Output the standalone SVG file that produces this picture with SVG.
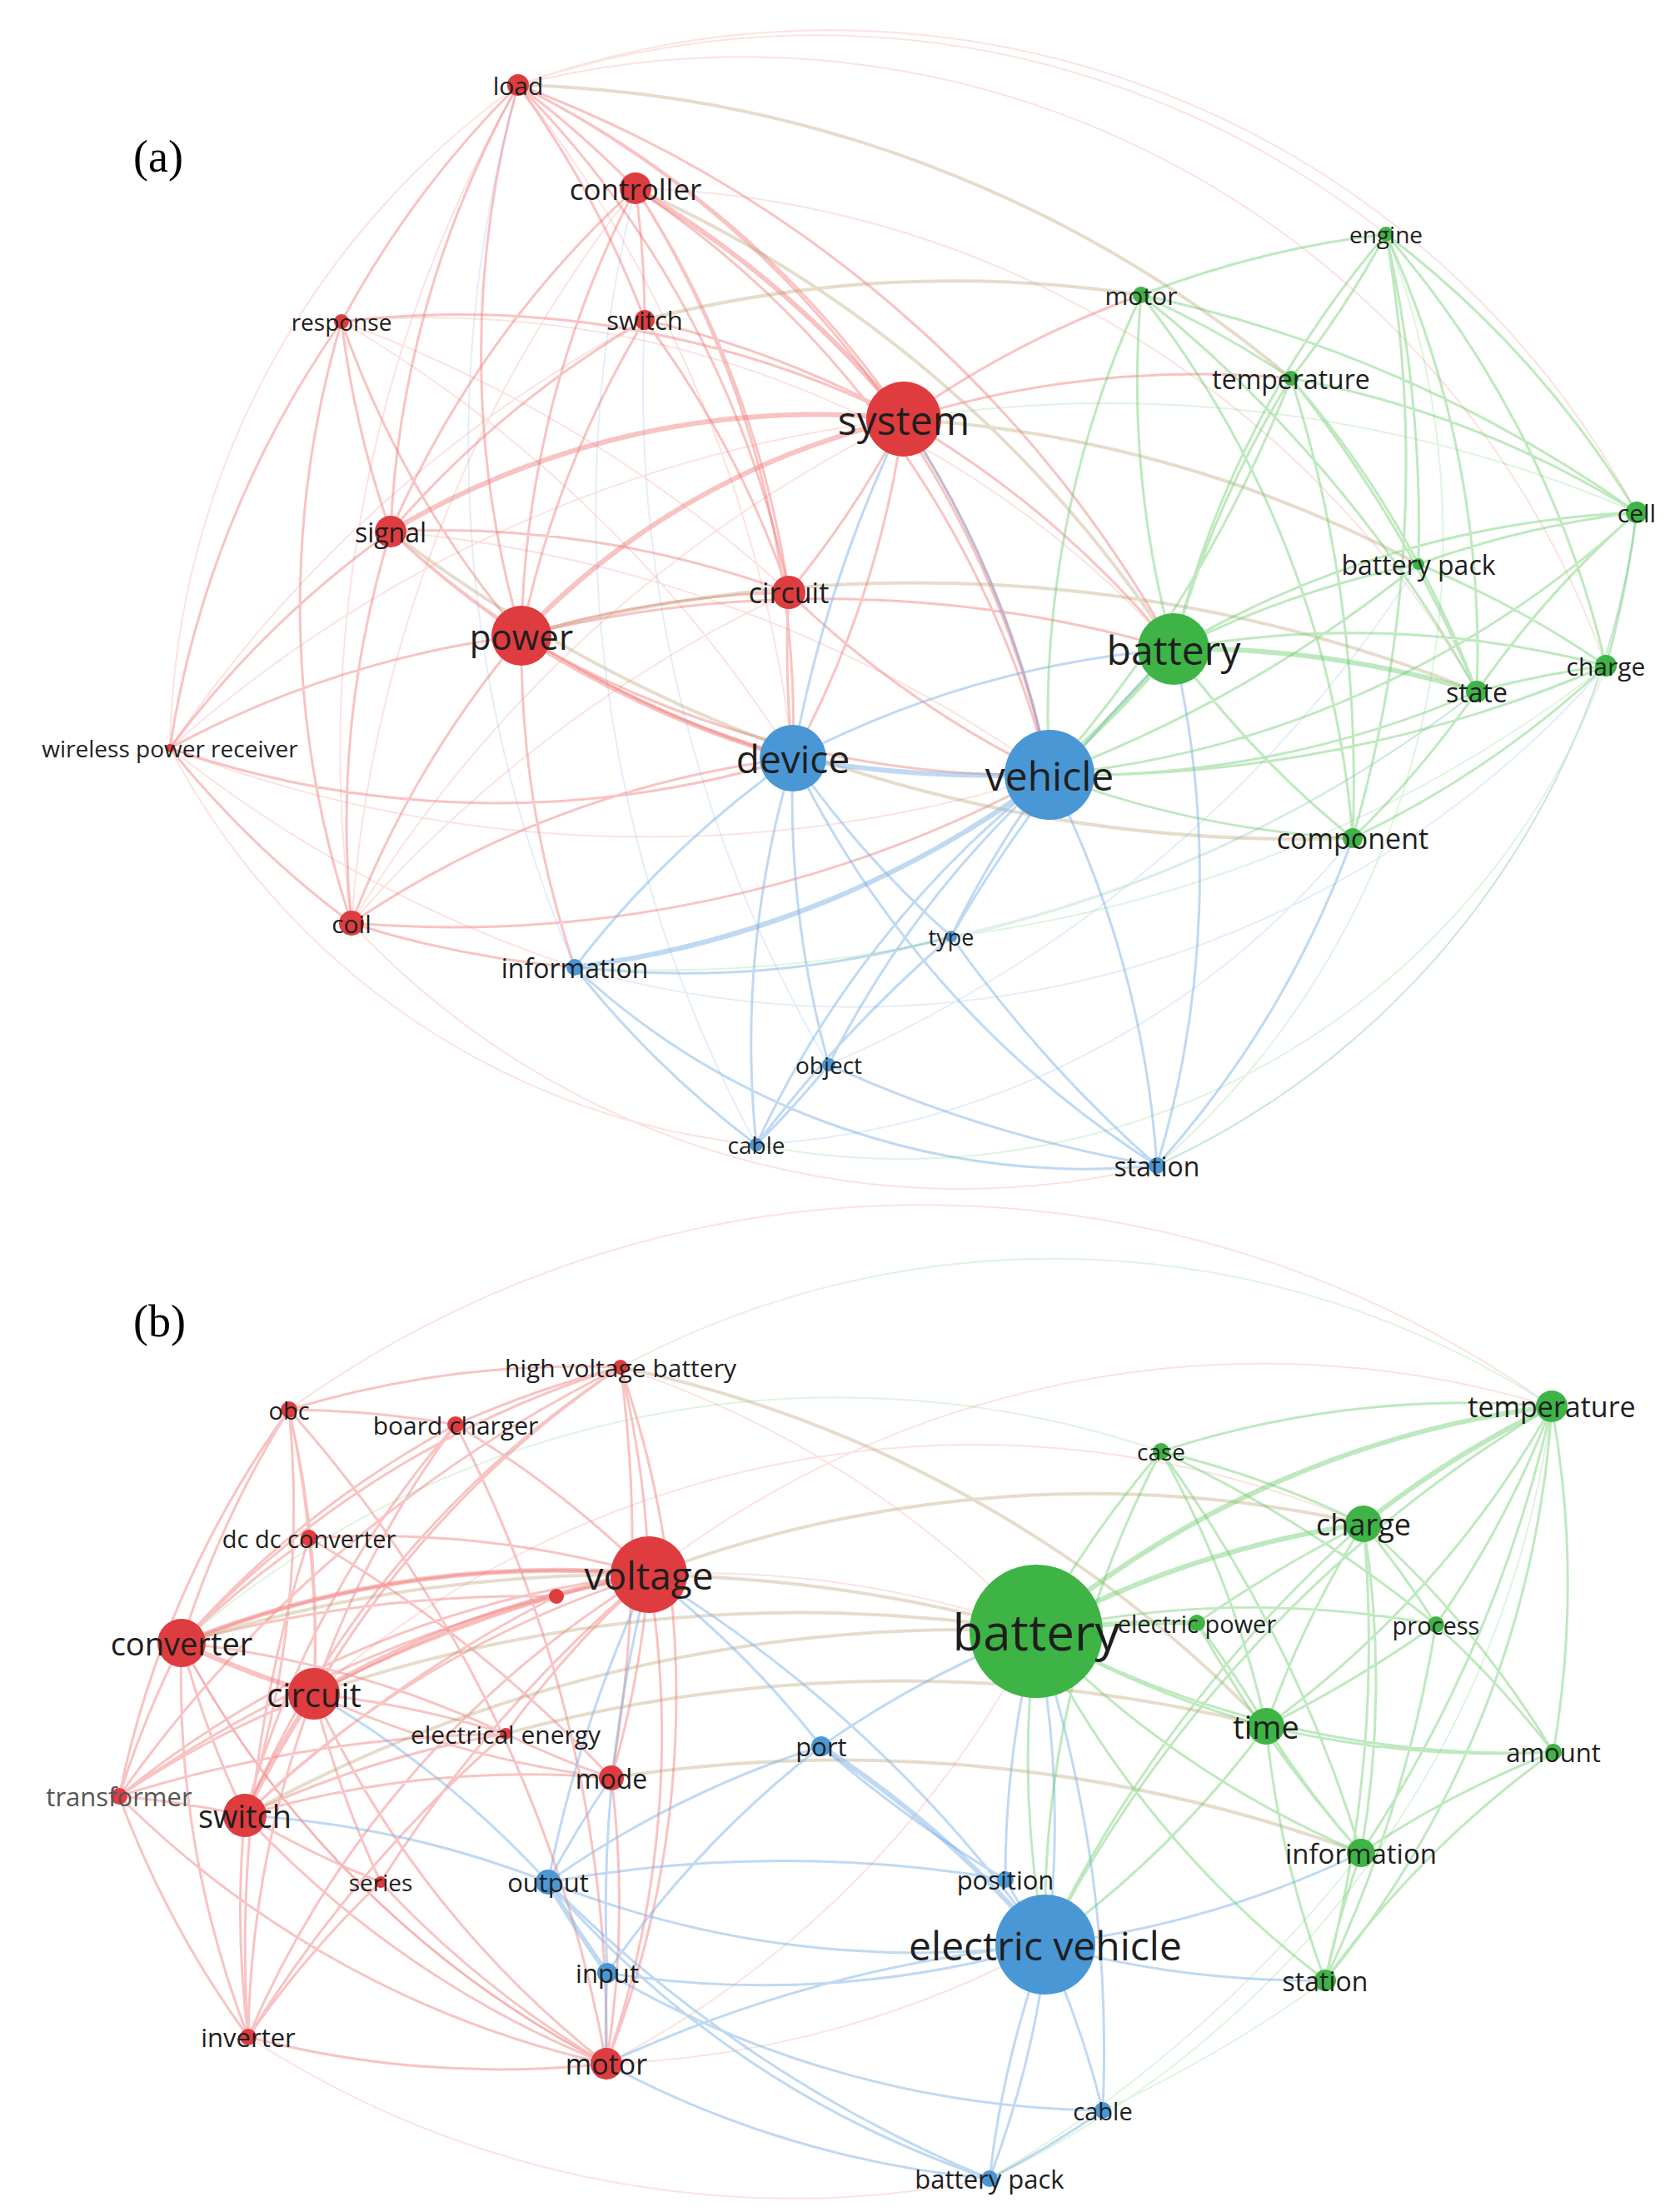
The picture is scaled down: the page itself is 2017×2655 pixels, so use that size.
<svg xmlns="http://www.w3.org/2000/svg" width="2017" height="2655" viewBox="0 0 2017 2655">
<style>
.e{fill:none;stroke-linecap:round}
.r{stroke:#f07a78;stroke-opacity:.45;stroke-width:3}
.g{stroke:#6fcf6f;stroke-opacity:.45;stroke-width:3}
.b{stroke:#7fb3e8;stroke-opacity:.5;stroke-width:3}
.m{stroke:#b89a6a;stroke-opacity:.35;stroke-width:4}
.o{stroke-opacity:.22;stroke-width:2}
.t{stroke-width:6}
.nr{fill:#de3c3f}.ng{fill:#3db445}.nb{fill:#4a97d6}
text{font-family:"Open Sans","Noto Sans",sans-serif;fill:#1e1e1e;text-anchor:middle;dominant-baseline:central}
.p{font-family:"Liberation Serif",serif;font-size:54px;text-anchor:start;fill:#000}
</style>
<rect width="2017" height="2655" fill="#fff"/>
<g id="connectors-a">
<path class="e r" d="M622 102A1200 1200 0 0 1 763 226M622 102A1200 1200 0 0 1 774 384M622 102A1200 1200 0 0 1 1085 503M622 102A1200 1200 0 0 0 626 763M622 102A1200 1200 0 0 0 469 638M622 102A1200 1200 0 0 0 410 386M622 102A1200 1200 0 0 1 947 711M622 102A1200 1200 0 0 1 1260 930M622 102A1500 1500 0 0 1 1409 779"/>
<path class="e r t" d="M763 226A1200 1200 0 0 1 1085 503M626 763A900 900 0 0 1 1085 503M469 638A1000 1000 0 0 1 1085 503M626 763A1200 1200 0 0 0 952 910"/>
<path class="e r" d="M763 226A1200 1200 0 0 1 774 384M763 226A1200 1200 0 0 0 626 763M763 226A1200 1200 0 0 0 469 638M763 226A1200 1200 0 0 1 947 711M763 226A1200 1200 0 0 1 952 910M763 226A1200 1200 0 0 1 1260 930M774 384A1200 1200 0 0 0 626 763M774 384A1200 1200 0 0 1 1085 503M774 384A1200 1200 0 0 1 947 711M774 384A1200 1200 0 0 0 469 638M410 386A1200 1200 0 0 0 469 638M410 386A1200 1200 0 0 0 626 763M410 386A1200 1200 0 0 1 1085 503M410 386A1200 1200 0 0 0 422 1108M1085 503A1200 1200 0 0 1 947 711M1085 503A1200 1200 0 0 1 952 910M1085 503A1200 1200 0 0 1 1260 930M1085 503A1200 1200 0 0 1 1409 779M1085 503A1200 1200 0 0 1 1370 354M1085 503A1200 1200 0 0 1 1550 454M469 638A1200 1200 0 0 0 626 763M469 638A1200 1200 0 0 0 422 1108M469 638A1200 1200 0 0 1 947 711M469 638A1200 1200 0 0 0 952 910M626 763A1200 1200 0 0 1 947 711M626 763A1200 1200 0 0 0 1260 930M626 763A1200 1200 0 0 0 422 1108M626 763A1200 1200 0 0 0 690 1161M626 763A1500 1500 0 0 1 1409 779M947 711A1200 1200 0 0 0 952 910M947 711A1200 1200 0 0 0 1260 930M204 898A1200 1200 0 0 1 626 763M204 898A1200 1200 0 0 0 422 1108M204 898A1200 1200 0 0 1 469 638M204 898A1200 1200 0 0 1 410 386M204 898A1200 1200 0 0 0 952 910M422 1108A1200 1200 0 0 0 690 1161M422 1108A1200 1200 0 0 1 952 910M422 1108A1500 1500 0 0 0 1260 930"/>
<path class="e r o" d="M622 102A1100 1100 0 0 1 1965 615M622 102A1100 1100 0 0 1 1664 281M204 898A900 900 0 0 0 908 1374M422 1108A1000 1000 0 0 0 1389 1399M410 386A1200 1200 0 0 1 1409 779M763 226A1200 1200 0 0 1 1773 830M622 102A1100 1100 0 0 1 1928 799M204 898A1000 1000 0 0 1 622 102M410 386A1600 1600 0 0 1 947 711M204 898A1600 1600 0 0 1 1085 503M204 898A1600 1600 0 0 0 1260 930M204 898A1600 1600 0 0 1 774 384M204 898A1600 1600 0 0 0 690 1161M422 1108A1600 1600 0 0 1 1085 503M422 1108A1600 1600 0 0 1 947 711M469 638A1600 1600 0 0 1 1260 930M410 386A1600 1600 0 0 1 952 910M622 102A1600 1600 0 0 0 422 1108M763 226A1600 1600 0 0 0 422 1108M622 102A1600 1600 0 0 1 952 910"/>
<path class="e m" d="M763 226A1500 1500 0 0 1 1409 779M626 763A1800 1800 0 0 1 1773 830M1085 503A1500 1500 0 0 1 1703 677M622 102A1500 1500 0 0 1 1550 454M469 638A1800 1800 0 0 0 1624 1006M774 384A1500 1500 0 0 1 1370 354"/>
<path class="e b t" d="M952 910A1500 1500 0 0 0 1260 930M690 1161A1200 1200 0 0 0 1260 930"/>
<path class="e b" d="M952 910A1200 1200 0 0 0 690 1161M952 910A1200 1200 0 0 0 1142 1124M952 910A1200 1200 0 0 0 995 1278M952 910A1200 1200 0 0 0 908 1374M952 910A1200 1200 0 0 0 1389 1399M1260 930A1200 1200 0 0 1 1389 1399M1260 930A1200 1200 0 0 0 1142 1124M1260 930A1200 1200 0 0 0 995 1278M1260 930A1200 1200 0 0 0 908 1374M690 1161A1200 1200 0 0 0 1142 1124M1389 1399A1200 1200 0 0 0 1409 779M1389 1399A1200 1200 0 0 0 1624 1006M908 1374A1200 1200 0 0 0 995 1278M952 910A1200 1200 0 0 1 1409 779M690 1161A1200 1200 0 0 1 952 910M1260 930A1200 1200 0 0 0 1085 503M690 1161A1200 1200 0 0 0 908 1374M690 1161A900 900 0 0 0 1389 1399M1142 1124A1600 1600 0 0 0 1389 1399M995 1278A1600 1600 0 0 0 1389 1399M908 1374A1600 1600 0 0 1 1142 1124M952 910A1600 1600 0 0 1 1085 503M1142 1124A1600 1600 0 0 1 1409 779"/>
<path class="e b o" d="M908 1374A1000 1000 0 0 0 1624 1006M1389 1399A1000 1000 0 0 0 1965 615M690 1161A1200 1200 0 0 0 1928 799M995 1278A1600 1600 0 0 1 774 384M908 1374A1600 1600 0 0 1 763 226M690 1161A1600 1600 0 0 1 622 102M1142 1124A1600 1600 0 0 0 1773 830M995 1278A1600 1600 0 0 0 1703 677"/>
<path class="e g t" d="M1409 779A1500 1500 0 0 1 1260 930M1409 779A1200 1200 0 0 1 1773 830"/>
<path class="e g" d="M1409 779A1200 1200 0 0 1 1370 354M1409 779A1200 1200 0 0 1 1550 454M1409 779A1200 1200 0 0 1 1703 677M1409 779A1200 1200 0 0 1 1928 799M1409 779A1200 1200 0 0 1 1965 615M1409 779A1200 1200 0 0 0 1624 1006M1409 779A1200 1200 0 0 1 1664 281M1370 354A1200 1200 0 0 1 1664 281M1370 354A1200 1200 0 0 1 1550 454M1370 354A1200 1200 0 0 0 1260 930M1664 281A1200 1200 0 0 1 1550 454M1664 281A1200 1200 0 0 1 1965 615M1664 281A1200 1200 0 0 1 1773 830M1550 454A1200 1200 0 0 1 1703 677M1550 454A1200 1200 0 0 1 1965 615M1703 677A1200 1200 0 0 1 1965 615M1703 677A1200 1200 0 0 1 1773 830M1703 677A1200 1200 0 0 1 1928 799M1773 830A1200 1200 0 0 1 1928 799M1773 830A1200 1200 0 0 1 1965 615M1928 799A1200 1200 0 0 0 1965 615M1624 1006A1200 1200 0 0 0 1773 830M1624 1006A1200 1200 0 0 0 1928 799M1624 1006A1200 1200 0 0 1 1260 930M1664 281A1200 1200 0 0 1 1928 799M1965 615A1200 1200 0 0 1 1260 930M1773 830A1200 1200 0 0 1 1260 930M1370 354A1200 1200 0 0 1 1624 1006M1550 454A1600 1600 0 0 1 1260 930M1550 454A1600 1600 0 0 1 1773 830M1550 454A1600 1600 0 0 1 1624 1006M1370 354A1600 1600 0 0 1 1965 615M1370 354A1600 1600 0 0 1 1773 830M1664 281A1600 1600 0 0 1 1703 677M1703 677A1600 1600 0 0 1 1260 930M1928 799A1600 1600 0 0 1 1260 930M1664 281A1600 1600 0 0 1 1624 1006"/>
<path class="e g o" d="M1664 281A1000 1000 0 0 1 1389 1399M1965 615A1000 1000 0 0 1 1389 1399M1928 799A900 900 0 0 1 908 1374M1928 799A1600 1600 0 0 1 1142 1124M1965 615A1600 1600 0 0 0 1085 503M1773 830A1600 1600 0 0 1 690 1161"/>
</g>
<g id="connectors-b">
<path class="e r" d="M745 1641A1200 1200 0 0 0 347 1692M745 1641A1200 1200 0 0 0 547 1710M745 1641A1200 1200 0 0 1 779 1890M745 1641A1200 1200 0 0 0 218 1972M745 1641A1200 1200 0 0 0 377 2033M745 1641A1200 1200 0 0 0 294 2179M745 1641A1200 1200 0 0 1 728 2477M347 1692A1200 1200 0 0 1 547 1710M347 1692A1200 1200 0 0 0 218 1972M347 1692A1200 1200 0 0 1 377 2033M347 1692A1200 1200 0 0 1 371 1846M347 1692A1200 1200 0 0 0 143 2156M347 1692A1200 1200 0 0 1 294 2179M547 1710A1200 1200 0 0 0 218 1972M547 1710A1200 1200 0 0 1 779 1890M547 1710A1200 1200 0 0 0 377 2033M547 1710A1200 1200 0 0 0 294 2179M371 1846A1200 1200 0 0 0 218 1972M371 1846A1200 1200 0 0 1 779 1890M371 1846A1200 1200 0 0 1 377 2033M779 1890A1200 1200 0 0 0 218 1972M779 1890A1200 1200 0 0 0 294 2179M779 1890A1200 1200 0 0 1 728 2477M779 1890A1200 1200 0 0 1 734 2134M779 1890A1200 1200 0 0 0 607 2081M779 1890A1200 1200 0 0 0 143 2156M779 1890A1200 1200 0 0 0 298 2445M779 1890A1200 1200 0 0 0 668 1916M218 1972A1200 1200 0 0 0 294 2179M218 1972A1200 1200 0 0 0 143 2156M218 1972A1200 1200 0 0 0 298 2445M218 1972A1200 1200 0 0 0 728 2477M218 1972A1200 1200 0 0 1 607 2081M377 2033A1200 1200 0 0 0 143 2156M377 2033A1200 1200 0 0 1 607 2081M377 2033A1200 1200 0 0 0 734 2134M377 2033A1200 1200 0 0 0 728 2477M377 2033A1200 1200 0 0 0 457 2259M377 2033A1200 1200 0 0 0 298 2445M294 2179A1200 1200 0 0 0 143 2156M294 2179A1200 1200 0 0 0 298 2445M294 2179A1200 1200 0 0 0 728 2477M294 2179A1200 1200 0 0 0 457 2259M294 2179A1200 1200 0 0 1 734 2134M294 2179A1200 1200 0 0 1 607 2081M143 2156A1200 1200 0 0 0 298 2445M143 2156A1200 1200 0 0 0 728 2477M298 2445A1200 1200 0 0 0 728 2477M298 2445A1200 1200 0 0 1 457 2259M457 2259A1200 1200 0 0 0 728 2477M734 2134A1200 1200 0 0 1 728 2477M607 2081A1200 1200 0 0 0 734 2134M668 1916A1600 1600 0 0 0 218 1972M668 1916A1600 1600 0 0 0 377 2033M668 1916A1600 1600 0 0 0 294 2179M547 1710A1600 1600 0 0 1 728 2477M347 1692A1600 1600 0 0 1 728 2477M371 1846A1600 1600 0 0 0 298 2445M371 1846A1600 1600 0 0 1 734 2134M143 2156A1600 1600 0 0 1 779 1890M143 2156A1600 1600 0 0 1 607 2081M457 2259A1600 1600 0 0 1 779 1890M298 2445A1600 1600 0 0 1 607 2081M745 1641A1600 1600 0 0 1 734 2134M745 1641A1600 1600 0 0 0 143 2156"/>
<path class="e r t" d="M218 1972A1200 1200 0 0 1 779 1890M377 2033A1200 1200 0 0 1 779 1890M377 2033A1200 1200 0 0 0 294 2179M218 1972A1200 1200 0 0 0 377 2033"/>
<path class="e r o" d="M779 1890A1200 1200 0 0 1 1244 1958M745 1641A1200 1200 0 0 1 1244 1958M728 2477A1200 1200 0 0 0 1244 1958M728 2477A1200 1200 0 0 0 1255 2334M779 1890A1200 1200 0 0 1 1863 1688M347 1692A1300 1300 0 0 1 1863 1688M298 2445A1200 1200 0 0 0 1188 2615M218 1972A1200 1200 0 0 0 728 2477M377 2033A1200 1200 0 0 1 1637 1829"/>
<path class="e m" d="M779 1890A1500 1500 0 0 1 1637 1829M377 2033A1800 1800 0 0 1 1244 1958M218 1972A1800 1800 0 0 1 1244 1958M294 2179A1800 1800 0 0 1 1244 1958M745 1641A1500 1500 0 0 1 1520 2072M607 2081A1800 1800 0 0 1 1520 2072M734 2134A1800 1800 0 0 1 1634 2224"/>
<path class="e b t" d="M658 2259A1200 1200 0 0 0 729 2368M986 2096A1200 1200 0 0 1 1255 2334"/>
<path class="e b" d="M658 2259A1200 1200 0 0 1 734 2134M658 2259A1200 1200 0 0 1 986 2096M658 2259A1200 1200 0 0 0 1255 2334M658 2259A1200 1200 0 0 0 294 2179M658 2259A1200 1200 0 0 0 377 2033M729 2368A1200 1200 0 0 0 1255 2334M729 2368A1200 1200 0 0 1 986 2096M729 2368A1200 1200 0 0 0 728 2477M986 2096A1200 1200 0 0 1 1244 1958M1207 2256A1200 1200 0 0 0 1255 2334M1255 2334A1200 1200 0 0 1 1324 2533M1255 2334A1200 1200 0 0 0 1188 2615M1324 2533A1200 1200 0 0 1 1188 2615M1188 2615A1200 1200 0 0 1 728 2477M1188 2615A1200 1200 0 0 0 1244 1958M1255 2334A1200 1200 0 0 0 1591 2377M1255 2334A1200 1200 0 0 0 1634 2224M986 2096A1200 1200 0 0 0 779 1890M1207 2256A1200 1200 0 0 1 1244 1958M658 2259A1200 1200 0 0 0 1188 2615M729 2368A1200 1200 0 0 0 1324 2533M658 2259A1600 1600 0 0 1 779 1890M729 2368A1600 1600 0 0 1 779 1890M1255 2334A1600 1600 0 0 0 779 1890M1255 2334A1600 1600 0 0 0 728 2477M1207 2256A1600 1600 0 0 0 658 2259M1324 2533A1600 1600 0 0 0 1244 1958M1188 2615A1600 1600 0 0 1 658 2259M986 2096A1600 1600 0 0 0 1207 2256"/>
<path class="e g t" d="M1244 1958A1200 1200 0 0 1 1637 1829M1244 1958A1200 1200 0 0 1 1863 1688M1244 1958A1200 1200 0 0 1 1437 1948M1637 1829A1200 1200 0 0 1 1863 1688"/>
<path class="e g" d="M1244 1958A1200 1200 0 0 1 1394 1742M1244 1958A1200 1200 0 0 1 1724 1950M1244 1958A1200 1200 0 0 0 1520 2072M1244 1958A1200 1200 0 0 0 1865 2103M1244 1958A1200 1200 0 0 0 1634 2224M1244 1958A1200 1200 0 0 0 1591 2377M1244 1958A1200 1200 0 0 0 1255 2334M1637 1829A1200 1200 0 0 0 1394 1742M1637 1829A1200 1200 0 0 1 1724 1950M1637 1829A1200 1200 0 0 0 1520 2072M1637 1829A1200 1200 0 0 1 1865 2103M1637 1829A1200 1200 0 0 1 1634 2224M1863 1688A1200 1200 0 0 1 1724 1950M1863 1688A1200 1200 0 0 1 1865 2103M1863 1688A1200 1200 0 0 0 1394 1742M1863 1688A1200 1200 0 0 1 1520 2072M1520 2072A1200 1200 0 0 0 1634 2224M1520 2072A1200 1200 0 0 0 1591 2377M1520 2072A1200 1200 0 0 0 1865 2103M1520 2072A1200 1200 0 0 1 1255 2334M1634 2224A1200 1200 0 0 0 1591 2377M1634 2224A1200 1200 0 0 1 1865 2103M1394 1742A1200 1200 0 0 1 1520 2072M1724 1950A1200 1200 0 0 1 1865 2103M1437 1948A1200 1200 0 0 1 1520 2072M1591 2377A1200 1200 0 0 1 1865 2103M1863 1688A1200 1200 0 0 1 1591 2377M1394 1742A1200 1200 0 0 0 1255 2334M1394 1742A1600 1600 0 0 1 1634 2224M1394 1742A1600 1600 0 0 1 1724 1950M1437 1948A1600 1600 0 0 1 1637 1829M1437 1948A1600 1600 0 0 0 1634 2224M1724 1950A1600 1600 0 0 1 1520 2072M1724 1950A1600 1600 0 0 1 1591 2377M1863 1688A1600 1600 0 0 1 1634 2224M1637 1829A1600 1600 0 0 1 1591 2377M1255 2334A1600 1600 0 0 1 1637 1829M1255 2334A1600 1600 0 0 1 1863 1688"/>
<path class="e g o" d="M1863 1688A1100 1100 0 0 0 745 1641M1863 1688A1200 1200 0 0 1 1188 2615M1394 1742A1200 1200 0 0 0 218 1972M1591 2377A1600 1600 0 0 1 1324 2533M1634 2224A1600 1600 0 0 1 1188 2615"/>
</g>
<text class="p" x="160" y="188">(a)</text>
<text class="p" x="160" y="1586">(b)</text>
<g id="n-load"><circle class="nr" cx="622" cy="102" r="13"/><text x="622" y="102" font-size="30">load</text></g>
<g id="n-controller"><circle class="nr" cx="763" cy="226" r="19"/><text x="763" y="226" font-size="35">controller</text></g>
<g id="n-switch-a"><circle class="nr" cx="774" cy="384" r="12"/><text x="774" y="384" font-size="31">switch</text></g>
<g id="n-response"><circle class="nr" cx="410" cy="386" r="9"/><text x="410" y="386" font-size="28">response</text></g>
<g id="n-system"><circle class="nr" cx="1085" cy="503" r="45"/><text x="1085" y="503" font-size="48">system</text></g>
<g id="n-signal"><circle class="nr" cx="469" cy="638" r="19"/><text x="469" y="638" font-size="32">signal</text></g>
<g id="n-circuit-a"><circle class="nr" cx="947" cy="711" r="20"/><text x="947" y="711" font-size="34">circuit</text></g>
<g id="n-power"><circle class="nr" cx="626" cy="763" r="36"/><text x="626" y="763" font-size="42">power</text></g>
<g id="n-wpr"><circle class="nr" cx="204" cy="898" r="5"/><text x="204" y="898" font-size="28">wireless power receiver</text></g>
<g id="n-coil"><circle class="nr" cx="422" cy="1108" r="15"/><text x="422" y="1108" font-size="30">coil</text></g>
<g id="n-device"><circle class="nb" cx="952" cy="910" r="40"/><text x="952" y="910" font-size="46">device</text></g>
<g id="n-vehicle"><circle class="nb" cx="1260" cy="930" r="54"/><text x="1260" y="930" font-size="48">vehicle</text></g>
<g id="n-information-a"><circle class="nb" cx="690" cy="1161" r="10"/><text x="690" y="1161" font-size="32">information</text></g>
<g id="n-type"><circle class="nb" cx="1142" cy="1124" r="7"/><text x="1142" y="1124" font-size="27">type</text></g>
<g id="n-object"><circle class="nb" cx="995" cy="1278" r="8"/><text x="995" y="1278" font-size="28">object</text></g>
<g id="n-cable-a"><circle class="nb" cx="908" cy="1374" r="8"/><text x="908" y="1374" font-size="28">cable</text></g>
<g id="n-station-a"><circle class="nb" cx="1389" cy="1399" r="10"/><text x="1389" y="1399" font-size="32">station</text></g>
<g id="n-battery-a"><circle class="ng" cx="1409" cy="779" r="43"/><text x="1409" y="779" font-size="48">battery</text></g>
<g id="n-motor-a"><circle class="ng" cx="1370" cy="354" r="10"/><text x="1370" y="354" font-size="30">motor</text></g>
<g id="n-engine"><circle class="ng" cx="1664" cy="281" r="9"/><text x="1664" y="281" font-size="28">engine</text></g>
<g id="n-temperature-a"><circle class="ng" cx="1550" cy="454" r="9"/><text x="1550" y="454" font-size="32">temperature</text></g>
<g id="n-cell"><circle class="ng" cx="1965" cy="615" r="13"/><text x="1965" y="615" font-size="30">cell</text></g>
<g id="n-batterypack-a"><circle class="ng" cx="1703" cy="677" r="7"/><text x="1703" y="677" font-size="32">battery pack</text></g>
<g id="n-state"><circle class="ng" cx="1773" cy="830" r="13"/><text x="1773" y="830" font-size="32">state</text></g>
<g id="n-charge-a"><circle class="ng" cx="1928" cy="799" r="13"/><text x="1928" y="799" font-size="30">charge</text></g>
<g id="n-component"><circle class="ng" cx="1624" cy="1006" r="12"/><text x="1624" y="1006" font-size="34">component</text></g>
<g id="n-hvb"><circle class="nr" cx="745" cy="1641" r="9"/><text x="745" y="1641" font-size="30">high voltage battery</text></g>
<g id="n-obc"><circle class="nr" cx="347" cy="1692" r="10"/><text x="347" y="1692" font-size="29">obc</text></g>
<g id="n-boardcharger"><circle class="nr" cx="547" cy="1710" r="10"/><text x="547" y="1710" font-size="30">board charger</text></g>
<g id="n-dcdc"><circle class="nr" cx="371" cy="1846" r="10"/><text x="371" y="1846" font-size="29">dc dc converter</text></g>
<g id="n-unlabeled"><circle class="nr" cx="668" cy="1916" r="9"/></g>
<g id="n-voltage"><circle class="nr" cx="779" cy="1890" r="46"/><text x="779" y="1890" font-size="46">voltage</text></g>
<g id="n-converter"><circle class="nr" cx="218" cy="1972" r="29"/><text x="218" y="1972" font-size="38">converter</text></g>
<g id="n-circuit-b"><circle class="nr" cx="377" cy="2033" r="31"/><text x="377" y="2033" font-size="40">circuit</text></g>
<g id="n-ee"><circle class="nr" cx="607" cy="2081" r="7"/><text x="607" y="2081" font-size="30">electrical energy</text></g>
<g id="n-mode"><circle class="nr" cx="734" cy="2134" r="15"/><text x="734" y="2134" font-size="32">mode</text></g>
<g id="n-transformer"><circle class="nr" cx="143" cy="2156" r="10"/><text x="143" y="2156" font-size="31" style="fill:#555">transformer</text></g>
<g id="n-switch-b"><circle class="nr" cx="294" cy="2179" r="26"/><text x="294" y="2179" font-size="38">switch</text></g>
<g id="n-series"><circle class="nr" cx="457" cy="2259" r="7"/><text x="457" y="2259" font-size="28">series</text></g>
<g id="n-inverter"><circle class="nr" cx="298" cy="2445" r="10"/><text x="298" y="2445" font-size="31">inverter</text></g>
<g id="n-motor-b"><circle class="nr" cx="728" cy="2477" r="19"/><text x="728" y="2477" font-size="34">motor</text></g>
<g id="n-output"><circle class="nb" cx="658" cy="2259" r="15"/><text x="658" y="2259" font-size="31">output</text></g>
<g id="n-input"><circle class="nb" cx="729" cy="2368" r="12"/><text x="729" y="2368" font-size="31">input</text></g>
<g id="n-port"><circle class="nb" cx="986" cy="2096" r="12"/><text x="986" y="2096" font-size="31">port</text></g>
<g id="n-position"><circle class="nb" cx="1207" cy="2256" r="10"/><text x="1207" y="2256" font-size="31">position</text></g>
<g id="n-ev"><circle class="nb" cx="1255" cy="2334" r="60"/><text x="1255" y="2334" font-size="48">electric vehicle</text></g>
<g id="n-cable-b"><circle class="nb" cx="1324" cy="2533" r="10"/><text x="1324" y="2533" font-size="29">cable</text></g>
<g id="n-batterypack-b"><circle class="nb" cx="1188" cy="2615" r="10"/><text x="1188" y="2615" font-size="31">battery pack</text></g>
<g id="n-battery-b"><circle class="ng" cx="1244" cy="1958" r="80"/><text x="1244" y="1958" font-size="60">battery</text></g>
<g id="n-ep"><circle class="ng" cx="1437" cy="1948" r="10"/><text x="1437" y="1948" font-size="29">electric power</text></g>
<g id="n-case"><circle class="ng" cx="1394" cy="1742" r="10"/><text x="1394" y="1742" font-size="28">case</text></g>
<g id="n-temperature-b"><circle class="ng" cx="1863" cy="1688" r="19"/><text x="1863" y="1688" font-size="34">temperature</text></g>
<g id="n-charge-b"><circle class="ng" cx="1637" cy="1829" r="22"/><text x="1637" y="1829" font-size="36">charge</text></g>
<g id="n-process"><circle class="ng" cx="1724" cy="1950" r="10"/><text x="1724" y="1950" font-size="29">process</text></g>
<g id="n-time"><circle class="ng" cx="1520" cy="2072" r="22"/><text x="1520" y="2072" font-size="38">time</text></g>
<g id="n-amount"><circle class="ng" cx="1865" cy="2103" r="10"/><text x="1865" y="2103" font-size="31">amount</text></g>
<g id="n-information-b"><circle class="ng" cx="1634" cy="2224" r="17"/><text x="1634" y="2224" font-size="33">information</text></g>
<g id="n-station-b"><circle class="ng" cx="1591" cy="2377" r="13"/><text x="1591" y="2377" font-size="32">station</text></g>
</svg>
